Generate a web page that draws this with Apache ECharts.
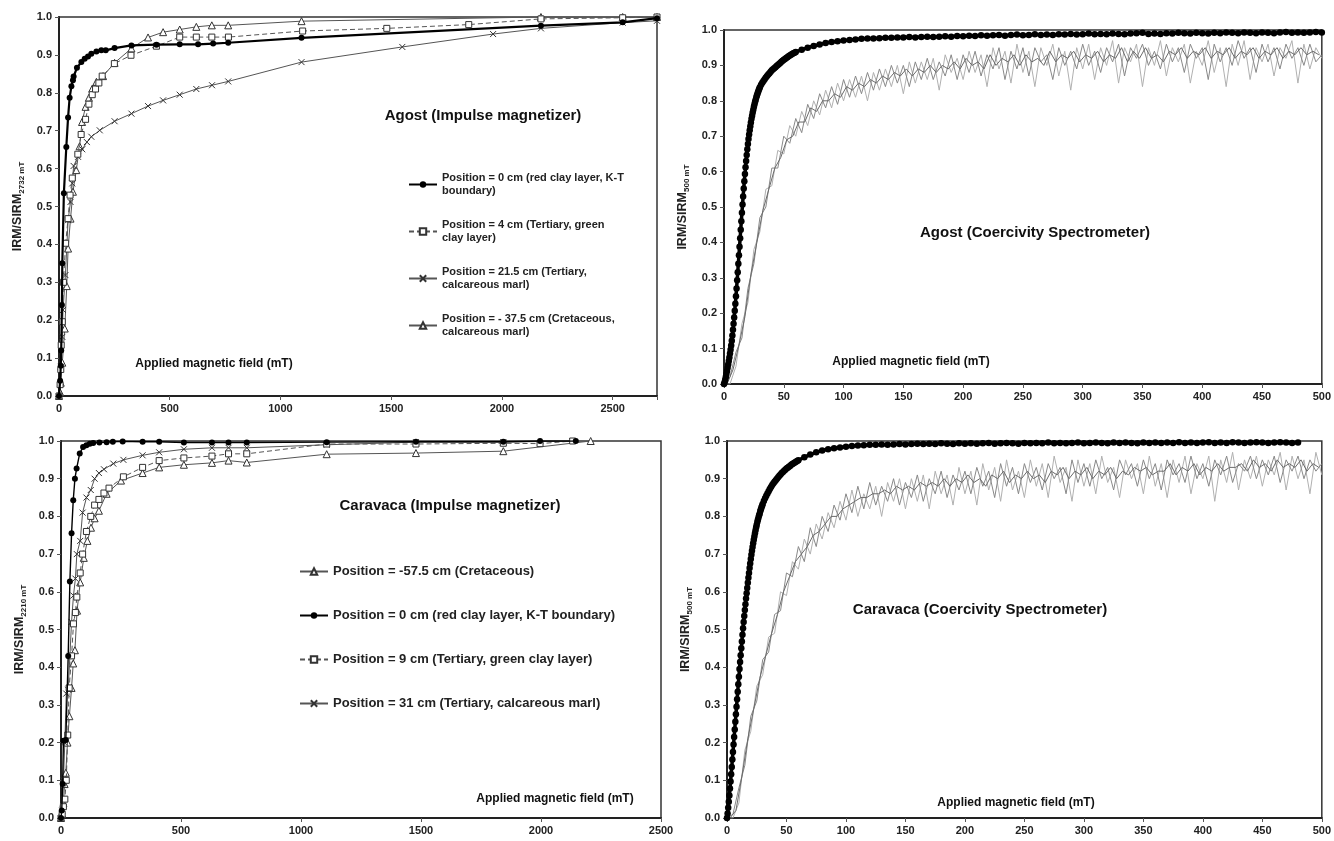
<!DOCTYPE html>
<html><head><meta charset="utf-8">
<script src="https://cdn.jsdelivr.net/npm/echarts@6/dist/echarts.min.js"></script>
<style>html,body{margin:0;padding:0;background:#fff}#c{width:1334px;height:841px}</style>
</head><body><div id="c"></div><script>
// ---------- Agost, impulse magnetizer ----------
const agost0Field = [0,5,8,10,13,15,22,33,41,48,56,63,66,81,101,116,131,146,169,191,211,251,327,440,545,628,696,764,1095,2176,2545,2700];
const agost0Val   = [0,0.04,0.08,0.12,0.24,0.35,0.535,0.657,0.735,0.787,0.817,0.833,0.843,0.866,0.881,0.89,0.896,0.903,0.909,0.912,0.912,0.918,0.925,0.927,0.928,0.928,0.93,0.932,0.945,0.977,0.986,0.997];
const agost4Field = [0,5,8,10,15,20,30,41,50,60,85,100,120,135,150,165,180,195,250,325,440,545,620,690,765,1100,1480,1850,2176,2545,2700];
const agost4Val   = [0,0.03,0.07,0.134,0.196,0.3,0.403,0.468,0.53,0.575,0.638,0.69,0.73,0.77,0.795,0.81,0.826,0.844,0.877,0.899,0.923,0.947,0.947,0.947,0.947,0.963,0.97,0.98,0.995,0.998,1.0];
const agost21Field = [0,8,15,18,29,41,52,60,66,86,105,126,146,184,251,327,402,470,545,620,691,764,1095,1550,1960,2176,2545,2700];
const agost21Val   = [0,0.077,0.156,0.227,0.319,0.464,0.512,0.561,0.607,0.631,0.651,0.67,0.684,0.701,0.725,0.745,0.765,0.78,0.795,0.81,0.82,0.83,0.881,0.921,0.955,0.97,0.985,0.99];
const agostM37Field = [0,5,8,15,26,35,41,52,63,78,93,104,120,135,150,169,199,251,327,402,470,545,620,690,764,1095,2176,2545,2700];
const agostM37Val   = [0,0.01,0.035,0.088,0.178,0.29,0.389,0.468,0.539,0.596,0.659,0.723,0.763,0.787,0.811,0.829,0.844,0.879,0.917,0.946,0.96,0.967,0.974,0.978,0.978,0.989,1.0,1.0,1.0];

// ---------- Caravaca, impulse magnetizer ----------
const car0Field = [0,3,7,10,20,30,37,44,51,58,65,78,92,106,120,134,160,190,216,257,340,409,512,629,698,774,1107,1479,1843,1996,2145];
const car0Val   = [0,0.02,0.09,0.205,0.207,0.43,0.627,0.755,0.843,0.9,0.927,0.967,0.984,0.989,0.993,0.995,0.996,0.997,0.998,0.999,0.998,0.998,0.996,0.996,0.996,0.996,0.997,0.998,0.998,1.0,1.0];
const car9Field = [0,5,10,16,22,28,34,44,52,60,66,80,90,106,124,140,158,179,200,260,340,409,512,629,698,774,1107,1479,1843,1996,2132];
const car9Val   = [0,0.01,0.03,0.05,0.1,0.22,0.345,0.43,0.515,0.545,0.586,0.65,0.7,0.76,0.8,0.83,0.845,0.862,0.875,0.905,0.93,0.948,0.955,0.96,0.966,0.966,0.992,0.992,0.994,0.993,1.0];
const car31Field = [0,5,10,16,22,30,37,44,52,60,66,80,90,106,124,140,158,179,218,260,340,409,512,629,698,774,1107,1479,1843,2132];
const car31Val   = [0,0.02,0.1,0.2,0.33,0.34,0.43,0.52,0.59,0.635,0.7,0.735,0.81,0.85,0.87,0.9,0.915,0.925,0.94,0.95,0.962,0.97,0.978,0.982,0.982,0.982,0.99,0.997,0.997,1.0];
const carM57Field = [0,5,10,15,20,27,35,44,51,58,67,80,95,110,125,140,158,190,250,340,409,512,629,698,774,1107,1479,1843,2207];
const carM57Val   = [0,0.01,0.04,0.09,0.12,0.2,0.27,0.345,0.41,0.445,0.55,0.625,0.69,0.735,0.77,0.795,0.815,0.86,0.895,0.915,0.93,0.937,0.942,0.948,0.943,0.965,0.968,0.973,1.0];

// ---------- Coercivity spectrometer ----------
const csBlackField = [0,0.5,1,1.5,2,2.5,3,3.5,4,4.5,5,5.5,6,6.5,7,7.5,8,8.5,9,9.5,10,10.5,11,11.5,12,12.5,13,13.5,14,14.5,15,15.5,16,16.5,17,17.5,18,18.5,19,19.5,20,20.5,21,21.5,22,22.5,23,23.5,24,24.5,25,25.5,26,26.5,27,27.5,28,28.5,29,29.5,30,
 31,32,33,34,35,36,37,38,39,40,41,42,43,44,45,46,47,48,49,50,51,52,53,54,55,56,57,58,59,60,
 65,70,75,80,85,90,95,100,105,110,115,120,125,130,135,140,145,150,155,160,165,170,175,180,185,190,195,200,205,210,215,220,225,230,235,240,245,250,255,260,265,270,275,280,285,290,295,300,305,310,315,320,325,330,335,340,345,350,355,360,365,370,375,380,385,390,395,400,405,410,415,420,425,430,435,440,445,450,455,460,465,470,475,480,485,490,495,500];
const agostCsBlack = [0.000,0.005,0.012,0.02,0.028,0.037,0.046,0.055,0.065,0.075,0.086,0.097,0.109,0.122,0.137,0.153,0.17,0.188,0.207,0.227,0.248,0.27,0.293,0.316,0.34,0.364,0.388,0.412,0.436,0.46,0.484,0.507,0.53,0.552,0.573,0.593,0.612,0.63,0.647,0.663,0.678,0.692,0.705,0.717,0.728,0.739,0.749,0.758,0.767,0.775,0.783,0.79,0.797,0.803,0.809,0.815,0.82,0.825,0.83,0.834,0.838,
 0.845,0.851,0.856,0.861,0.866,0.87,0.874,0.878,0.882,0.886,0.889,0.892,0.895,0.898,0.901,0.904,0.907,0.91,0.913,0.916,0.918,0.921,0.923,0.926,0.928,0.93,0.932,0.934,0.936,0.938,
 0.944,0.95,0.955,0.959,0.963,0.966,0.968,0.97,0.972,0.973,0.975,0.976,0.976,0.977,0.978,0.978,0.979,0.979,0.98,0.979,0.98,0.981,0.98,0.981,0.982,0.981,0.983,0.982,0.984,0.983,0.985,0.984,0.985,0.986,0.984,0.986,0.987,0.985,0.986,0.988,0.986,0.987,0.986,0.988,0.987,0.989,0.987,0.988,0.99,0.988,0.989,0.988,0.99,0.989,0.988,0.99,0.991,0.992,0.989,0.99,0.989,0.991,0.99,0.992,0.991,0.99,0.992,0.991,0.99,0.992,0.991,0.993,0.992,0.991,0.993,0.992,0.991,0.993,0.992,0.991,0.993,0.994,0.992,0.993,0.992,0.993,0.994,0.993];
const caravacaCsBlack = [0.0,0.012,0.027,0.043,0.06,0.078,0.097,0.116,0.135,0.155,0.175,0.195,0.215,0.235,0.255,0.275,0.295,0.315,0.335,0.355,0.375,0.395,0.414,0.432,0.45,0.468,0.486,0.503,0.52,0.536,0.552,0.567,0.582,0.596,0.61,0.624,0.637,0.65,0.663,0.675,0.687,0.698,0.709,0.719,0.729,0.738,0.747,0.755,0.763,0.771,0.778,0.785,0.791,0.797,0.803,0.808,0.814,0.819,0.824,0.828,0.833,
 0.841,0.848,0.855,0.861,0.867,0.873,0.878,0.883,0.888,0.892,0.896,0.9,0.904,0.908,0.911,0.915,0.918,0.921,0.924,0.927,0.929,0.932,0.934,0.937,0.939,0.941,0.943,0.945,0.947,0.949,
 0.957,0.964,0.97,0.975,0.978,0.981,0.983,0.985,0.987,0.988,0.989,0.99,0.99,0.991,0.99,0.991,0.992,0.991,0.992,0.993,0.992,0.993,0.992,0.994,0.993,0.992,0.994,0.993,0.994,0.993,0.994,0.995,0.993,0.994,0.995,0.994,0.993,0.995,0.994,0.995,0.994,0.996,0.994,0.995,0.994,0.995,0.996,0.994,0.995,0.996,0.995,0.994,0.996,0.995,0.996,0.995,0.994,0.996,0.995,0.996,0.995,0.996,0.995,0.997,0.995,0.996,0.995,0.996,0.997,0.995,0.996,0.995,0.997,0.996,0.995,0.996,0.997,0.996,0.995,0.996,0.997,0.996,0.995,0.996];

const csFieldA = [0,5,10,15,20,25,30,35,40,45,50,55,60,65,70,75,80,85,90,95,100,105,110,115,120,125,130,135,140,145,150,155,160,165,170,175,180,185,190,195,200,205,210,215,220,225,230,235,240,245,250,255,260,265,270,275,280,285,290,295,300,305,310,315,320,325,330,335,340,345,350,355,360,365,370,375,380,385,390,395,400,405,410,415,420,425,430,435,440,445,450,455,460,465,470,475,480,485,490,495,500];
const csFieldB = [2.5,7.5,12.5,17.5,22.5,27.5,32.5,37.5,42.5,47.5,52.5,57.5,62.5,67.5,72.5,77.5,82.5,87.5,92.5,97.5,102.5,107.5,112.5,117.5,122.5,127.5,132.5,137.5,142.5,147.5,152.5,157.5,162.5,167.5,172.5,177.5,182.5,187.5,192.5,197.5,202.5,207.5,212.5,217.5,222.5,227.5,232.5,237.5,242.5,247.5,252.5,257.5,262.5,267.5,272.5,277.5,282.5,287.5,292.5,297.5,302.5,307.5,312.5,317.5,322.5,327.5,332.5,337.5,342.5,347.5,352.5,357.5,362.5,367.5,372.5,377.5,382.5,387.5,392.5,397.5,402.5,407.5,412.5,417.5,422.5,427.5,432.5,437.5,442.5,447.5,452.5,457.5,462.5,467.5,472.5,477.5,482.5,487.5,492.5,497.5];

const agostGray1 = [0.00,0.02,0.09,0.13,0.27,0.34,0.47,0.50,0.61,0.61,0.70,
 0.68,0.75,0.71,0.79,0.75,0.82,0.78,0.84,0.79,0.86,
 0.81,0.87,0.82,0.88,0.83,0.89,0.84,0.90,0.85,0.90,
 0.84,0.91,0.86,0.92,0.86,0.91,0.87,0.93,0.86,0.93,
 0.88,0.94,0.87,0.93,0.89,0.95,0.86,0.94,0.89,0.95,
 0.87,0.95,0.91,0.93,0.86,0.95,0.90,0.94,0.89,0.96,
 0.90,0.94,0.88,0.95,0.91,0.96,0.87,0.95,0.92,0.96,
 0.90,0.94,0.89,0.96,0.91,0.95,0.88,0.96,0.92,0.95,
 0.86,0.96,0.91,0.95,0.90,0.97,0.92,0.95,0.88,0.96,
 0.91,0.95,0.89,0.96,0.92,0.95,0.90,0.96,0.91,0.93];
const agostGray2 = [0.00,0.00,0.05,0.17,0.23,0.38,0.43,0.55,0.56,0.66,0.65,
 0.73,0.70,0.77,0.73,0.80,0.76,0.83,0.78,0.85,0.80,
 0.86,0.81,0.87,0.80,0.88,0.83,0.89,0.84,0.90,0.82,
 0.91,0.85,0.91,0.86,0.92,0.83,0.93,0.88,0.92,0.86,
 0.94,0.88,0.93,0.84,0.95,0.89,0.94,0.85,0.96,0.88,
 0.94,0.84,0.95,0.90,0.96,0.87,0.94,0.83,0.95,0.89,
 0.96,0.86,0.95,0.90,0.97,0.85,0.95,0.91,0.96,0.84,
 0.95,0.90,0.97,0.87,0.95,0.91,0.96,0.85,0.94,0.90,
 0.97,0.88,0.95,0.84,0.96,0.90,0.97,0.86,0.95,0.91,
 0.96,0.87,0.95,0.92,0.97,0.85,0.96,0.89,0.95,0.92];
const agostGray3 = [0.00,0.04,0.11,0.19,0.31,0.40,0.49,0.55,0.61,0.64,
 0.69,0.70,0.74,0.74,0.78,0.77,0.80,0.80,0.82,0.81,
 0.84,0.83,0.85,0.84,0.86,0.85,0.87,0.86,0.88,0.87,
 0.89,0.87,0.89,0.88,0.90,0.88,0.90,0.89,0.91,0.89,
 0.92,0.90,0.91,0.89,0.93,0.90,0.92,0.91,0.93,0.90,
 0.93,0.91,0.92,0.90,0.94,0.91,0.93,0.92,0.94,0.91,
 0.93,0.92,0.94,0.91,0.93,0.92,0.95,0.91,0.94,0.92,
 0.95,0.92,0.93,0.91,0.94,0.93,0.95,0.92,0.94,0.93,
 0.95,0.92,0.94,0.93,0.95,0.92,0.94,0.93,0.95,0.92,
 0.94,0.93,0.95,0.92,0.94,0.93,0.95,0.93,0.94,0.93];
const carGray1 = [0.00,0.01,0.08,0.14,0.27,0.31,0.42,0.44,0.54,0.55,0.65,
 0.64,0.72,0.68,0.77,0.72,0.80,0.76,0.83,0.79,0.86,
 0.81,0.88,0.82,0.89,0.83,0.88,0.84,0.90,0.83,0.89,
 0.85,0.91,0.84,0.90,0.86,0.92,0.85,0.91,0.87,0.92,
 0.86,0.93,0.88,0.92,0.85,0.94,0.88,0.93,0.86,0.94,
 0.89,0.93,0.87,0.94,0.90,0.93,0.86,0.95,0.89,0.94,
 0.88,0.95,0.90,0.93,0.87,0.95,0.91,0.94,0.88,0.95,
 0.90,0.94,0.87,0.95,0.91,0.94,0.89,0.96,0.90,0.94,
 0.88,0.95,0.91,0.96,0.89,0.94,0.92,0.96,0.90,0.95,
 0.91,0.96,0.89,0.95,0.92,0.96,0.90,0.95,0.92,0.94];
const carGray2 = [0.00,0.00,0.04,0.18,0.23,0.35,0.38,0.48,0.49,0.60,0.59,
 0.68,0.66,0.74,0.70,0.78,0.74,0.81,0.77,0.84,0.79,
 0.87,0.80,0.86,0.82,0.88,0.80,0.89,0.84,0.90,0.82,
 0.90,0.84,0.91,0.82,0.92,0.86,0.91,0.83,0.93,0.86,
 0.92,0.83,0.94,0.87,0.93,0.84,0.95,0.87,0.92,0.85,
 0.95,0.88,0.94,0.85,0.96,0.89,0.93,0.84,0.95,0.88,
 0.94,0.86,0.96,0.89,0.93,0.85,0.95,0.90,0.94,0.86,
 0.96,0.88,0.94,0.85,0.95,0.89,0.96,0.86,0.94,0.90,
 0.96,0.84,0.95,0.89,0.97,0.87,0.95,0.90,0.96,0.88,
 0.95,0.91,0.97,0.87,0.96,0.90,0.95,0.86,0.97,0.91];
const carGray3 = [0.00,0.02,0.11,0.21,0.29,0.37,0.43,0.49,0.54,0.60,
 0.64,0.68,0.70,0.72,0.75,0.76,0.78,0.80,0.80,0.82,
 0.83,0.84,0.85,0.85,0.86,0.86,0.87,0.86,0.88,0.87,
 0.88,0.87,0.89,0.88,0.89,0.88,0.90,0.88,0.90,0.89,
 0.91,0.89,0.90,0.88,0.91,0.90,0.92,0.89,0.91,0.90,
 0.92,0.90,0.91,0.89,0.92,0.91,0.93,0.90,0.92,0.91,
 0.93,0.90,0.92,0.91,0.93,0.90,0.92,0.91,0.93,0.92,
 0.93,0.91,0.92,0.92,0.94,0.91,0.93,0.92,0.94,0.91,
 0.93,0.92,0.94,0.92,0.93,0.93,0.94,0.92,0.95,0.93,
 0.94,0.92,0.95,0.93,0.94,0.93,0.95,0.92,0.94,0.93];

// ---------- text ----------
const yTicks = ['0.0','0.1','0.2','0.3','0.4','0.5','0.6','0.7','0.8','0.9','1.0'];
const namesTL = ['Position = 0 cm (red clay layer, K-T\nboundary)','Position = 4 cm (Tertiary, green\nclay layer)','Position = 21.5 cm (Tertiary,\ncalcareous marl)','Position = - 37.5 cm (Cretaceous,\ncalcareous marl)'];
const namesBL = ['Position = -57.5 cm (Cretaceous)','Position = 0 cm (red clay layer, K-T boundary)','Position = 9 cm (Tertiary, green clay layer)','Position = 31 cm (Tertiary, calcareous marl)'];
const panelTitles = ['Agost (Impulse magnetizer)','Agost (Coercivity Spectrometer)','Caravaca (Impulse magnetizer)','Caravaca (Coercivity Spectrometer)'];
const xAxisTitle = 'Applied magnetic field (mT)';
const ySubs = ['2732 mT','500 mT','2210 mT','500 mT'];

const FONT = '"Liberation Sans", Arial, Helvetica, sans-serif';
const zip = (xs, ys) => xs.map((x, i) => [x, ys[i]]);
const CROSS = 'path://M0,0L10,10M10,0L0,10';

const grids = [
  {left:59, top:17, width:598, height:379},
  {left:724, top:30, width:598, height:354},
  {left:61, top:441, width:600, height:377},
  {left:727, top:441, width:596, height:377}
];
const xMax = [2700, 500, 2500, 500];
const xInt = [500, 50, 500, 50];

const xAxes = grids.map((g, i) => ({
  type:'value', gridIndex:i, min:0, max:xMax[i], interval:xInt[i],
  axisLine:{show:true, onZero:false, lineStyle:{color:'#222', width:2}},
  axisTick:{show:true, length:4, lineStyle:{color:'#555', width:1}},
  axisLabel:{color:'#222', fontSize:11, fontWeight:'bold', fontFamily:FONT, margin:7,
    formatter: v => (v % xInt[i] === 0 ? String(v) : '')},
  splitLine:{show:false}
}));
const yAxes = grids.map((g, i) => ({
  type:'value', gridIndex:i, min:0, max:1, interval:0.1,
  axisLine:{show:true, lineStyle:{color:'#222', width:2}},
  axisTick:{show:true, length:4, lineStyle:{color:'#555', width:1}},
  axisLabel:{color:'#222', fontSize:11, fontWeight:'bold', fontFamily:FONT, margin:7,
    formatter: v => yTicks[Math.round(v * 10)]},
  splitLine:{show:false},
  name:'{a|IRM/SIRM}{b|' + ySubs[i] + '}', nameLocation:'middle', nameRotate:90, nameGap:33,
  nameTextStyle:{rich:{
    a:{fontSize:12.5, fontWeight:'bold', fontFamily:FONT, color:'#222', lineHeight:16},
    b:{fontSize:8, fontWeight:'bold', fontFamily:FONT, color:'#222', lineHeight:16, verticalAlign:'bottom'}
  }}
}));

function impulse(name, gi, xs, ys, kind) {
  const s = {name, type:'line', xAxisIndex:gi, yAxisIndex:gi, data:zip(xs, ys),
    showAllSymbol:true, animation:false, z:2};
  if (kind === 'dot') {
    Object.assign(s, {symbol:'circle', symbolSize:6, itemStyle:{color:'#000'},
      lineStyle:{color:'#000', width: gi === 0 ? 2.2 : 1.4}, z:5});
  } else if (kind === 'square') {
    Object.assign(s, {symbol:'rect', symbolSize:6, itemStyle:{color:'#fff', borderColor:'#333', borderWidth:1},
      lineStyle:{color:'#555', width:1, type:[5,3]}, z:4});
  } else if (kind === 'cross') {
    Object.assign(s, {symbol:CROSS, symbolSize:6, itemStyle:{color:'#333', borderColor:'#333', borderWidth:1},
      lineStyle:{color:'#555', width:1}, z:3});
  } else {
    Object.assign(s, {symbol:'triangle', symbolSize:7, itemStyle:{color:'#fff', borderColor:'#333', borderWidth:1},
      lineStyle:{color:'#555', width:1}, z:3});
  }
  return s;
}
function gray(name, gi, xs, ys, color) {
  return {name, type:'line', xAxisIndex:gi, yAxisIndex:gi, data:zip(xs, ys), symbol:'none',
    lineStyle:{color, width:1}, animation:false, z:1, silent:true};
}
function black(name, gi, ys) {
  return {name, type:'line', xAxisIndex:gi, yAxisIndex:gi, data:zip(csBlackField, ys),
    symbol:'circle', symbolSize:6.5, showAllSymbol:true, itemStyle:{color:'#000'},
    lineStyle:{color:'#000', width:3.5}, animation:false, z:5};
}

const series = [
  impulse(namesTL[3], 0, agostM37Field, agostM37Val, 'tri'),
  impulse(namesTL[2], 0, agost21Field, agost21Val, 'cross'),
  impulse(namesTL[1], 0, agost4Field, agost4Val, 'square'),
  impulse(namesTL[0], 0, agost0Field, agost0Val, 'dot'),
  gray('agost g2', 1, csFieldA, agostGray2, '#b0b0b0'),
  gray('agost g1', 1, csFieldA, agostGray1, '#888888'),
  gray('agost g3', 1, csFieldB, agostGray3, '#6a6a6a'),
  black('agost cs', 1, agostCsBlack),
  impulse(namesBL[0], 2, carM57Field, carM57Val, 'tri'),
  impulse(namesBL[3], 2, car31Field, car31Val, 'cross'),
  impulse(namesBL[2], 2, car9Field, car9Val, 'square'),
  impulse(namesBL[1], 2, car0Field, car0Val, 'dot'),
  gray('car g2', 3, csFieldA, carGray2, '#b0b0b0'),
  gray('car g1', 3, csFieldA, carGray1, '#888888'),
  gray('car g3', 3, csFieldB, carGray3, '#6a6a6a'),
  black('car cs', 3, caravacaCsBlack)
];

const titlePos = [[483,116],[1035,233],[450,506],[980,610]];
const axisTitlePos = [[214,364],[911,362],[555,799],[1016,803]];
const graphic = [];
panelTitles.forEach((t, i) => graphic.push({type:'text', x:titlePos[i][0], y:titlePos[i][1], z:10,
  style:{text:t, fontSize:15, fontWeight:'bold', fontFamily:FONT, fill:'#111', align:'center', verticalAlign:'middle'}}));
axisTitlePos.forEach(p => graphic.push({type:'text', x:p[0], y:p[1], z:10,
  style:{text:xAxisTitle, fontSize:12, fontWeight:'bold', fontFamily:FONT, fill:'#111', align:'center', verticalAlign:'middle'}}));

const chart = echarts.init(document.getElementById('c'), null, {renderer:'canvas'});
chart.setOption({
  animation:false,
  backgroundColor:'#fff',
  textStyle:{fontFamily:FONT},
  grid: grids.map(g => Object.assign({show:true, borderColor:'#333', borderWidth:1.5, backgroundColor:'transparent'}, g)),
  xAxis: xAxes,
  yAxis: yAxes,
  legend: [
    {data:namesTL, orient:'vertical', left:403, top:160, itemWidth:28, itemHeight:8, itemGap:8,
     selectedMode:false, textStyle:{fontSize:11, fontWeight:'bold', fontFamily:FONT, color:'#222', lineHeight:13, padding:[13,0,0,0]}},
    {data:[namesBL[0], namesBL[1], namesBL[2], namesBL[3]], orient:'vertical', left:294, top:560, itemWidth:28, itemHeight:8, itemGap:31,
     selectedMode:false, textStyle:{fontSize:13, fontWeight:'bold', fontFamily:FONT, color:'#222'}}
  ],
  graphic: graphic,
  series: series
});
</script></body></html>
